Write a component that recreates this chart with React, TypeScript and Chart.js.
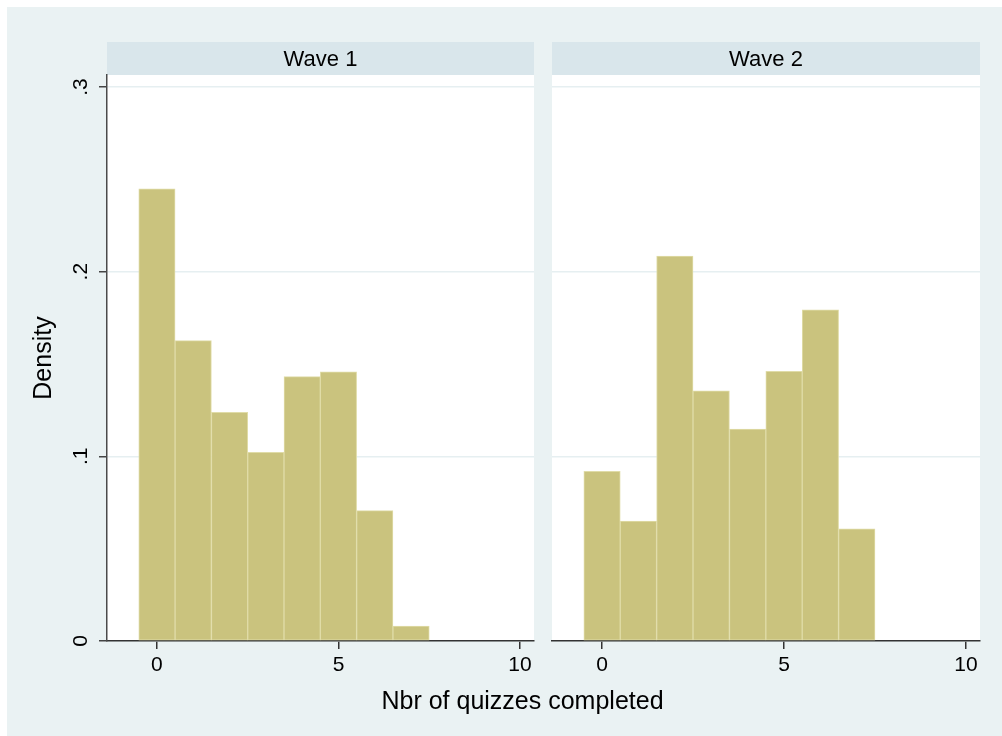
import React, { useEffect, useRef } from "react";
import { Chart, registerables } from "chart.js";

Chart.register(...registerables);

// ---- data ----
const quizBins = [0, 1, 2, 3, 4, 5, 6, 7];
const wave1Density = [0.2449, 0.1627, 0.1238, 0.1022, 0.1432, 0.1458, 0.0706, 0.0081];
const wave2Density = [0.0919, 0.0649, 0.2085, 0.1355, 0.1148, 0.146, 0.1793, 0.0608];
const panelTitles = ["Wave 1", "Wave 2"];
const xTickValues = [0, 5, 10];
const xTickLabels = ["0", "5", "10"];
const yTickValues = [0, 0.1, 0.2, 0.3];
const yTickLabels = ["0", ".1", ".2", ".3"];
const xAxisTitle = "Nbr of quizzes completed";
const yAxisTitle = "Density";

const FONT = '"Liberation Sans", Arial, Helvetica, sans-serif';

const panelDecor = {
  id: "panelDecor",
  beforeDraw(chart: any, _args: any, opts: any) {
    const { ctx, chartArea: a } = chart;
    ctx.save();
    ctx.fillStyle = "#FFFFFF";
    ctx.fillRect(a.left, a.top, a.right - a.left, a.bottom - a.top);
    ctx.fillStyle = "#D9E6EB";
    ctx.fillRect(a.left, a.top - 33, a.right - a.left, 33);
    ctx.fillStyle = "#000000";
    ctx.font = "22px " + FONT;
    ctx.textAlign = "center";
    ctx.textBaseline = "alphabetic";
    ctx.fillText(opts.text, (a.left + a.right) / 2, a.top - 9.5);
    ctx.restore();
  },
};

type PanelProps = {
  values: number[];
  title: string;
  showY: boolean;
  left: number;
  width: number;
  padLeft: number;
  padRight: number;
};

function Panel({ values, title, showY, left, width, padLeft, padRight }: PanelProps) {
  const ref = useRef<HTMLCanvasElement | null>(null);
  const height = 680;
  useEffect(() => {
    if (!ref.current) return;
    const chart = new Chart(ref.current, {
      type: "bar",
      data: {
        datasets: [
          {
            data: quizBins.map((b, i) => ({ x: b, y: values[i] })),
            backgroundColor: "#CAC37E",
            borderColor: "#E0DCA8",
            borderWidth: 1,
            borderSkipped: false,
            barPercentage: 1,
            categoryPercentage: 1,
          } as any,
        ],
      },
      plugins: [panelDecor],
      options: {
        animation: false,
        responsive: false,
        devicePixelRatio: 1,
        layout: { padding: { left: padLeft, top: 68, right: padRight, bottom: 6 } },
        plugins: {
          legend: { display: false },
          tooltip: { enabled: false },
          panelDecor: { text: title },
        } as any,
        scales: {
          x: {
            type: "linear",
            offset: false,
            min: -1.375,
            max: 10.385,
            afterBuildTicks: (s: any) => {
              s.ticks = xTickValues.map((v) => ({ value: v }));
            },
            afterFit: (s: any) => {
              s.height = 40;
            },
            ticks: {
              autoSkip: false,
              maxRotation: 0,
              padding: 4,
              color: "#000000",
              font: { size: 21, family: FONT },
              callback: (v: any) => xTickLabels[xTickValues.indexOf(Number(v))],
            },
            grid: {
              display: true,
              offset: false,
              drawOnChartArea: false,
              drawTicks: true,
              tickLength: 8,
              color: "#333333",
              lineWidth: 1.5,
            },
            border: { display: true, color: "#333333", width: 1.5 },
          },
          y: {
            type: "linear",
            min: 0,
            max: 0.3065,
            afterBuildTicks: (s: any) => {
              s.ticks = yTickValues.map((v) => ({ value: v }));
            },
            afterFit: (s: any) => {
              s.width = showY ? 100 : 0;
            },
            ticks: {
              display: showY,
              minRotation: 90,
              maxRotation: 90,
              crossAlign: "center",
              padding: 9,
              color: "#000000",
              font: { size: 21, family: FONT },
              callback: (v: any) => {
                const idx = yTickValues.findIndex((t) => Math.abs(t - Number(v)) < 1e-9);
                return idx >= 0 ? yTickLabels[idx] : "";
              },
            },
            grid: {
              color: "#E6EFF1",
              lineWidth: 1.5,
              drawTicks: showY,
              tickLength: 8,
              tickColor: "#444444",
            },
            border: { display: showY, color: "#4A4A4A", width: 1.5 },
            title: {
              display: showY,
              text: yAxisTitle,
              color: "#000000",
              font: { size: 25, family: FONT },
              padding: { top: 22, bottom: 0 },
            },
          },
        },
      } as any,
    });
    return () => chart.destroy();
  }, [values, title, showY, padLeft, padRight]);

  return (
    <canvas
      ref={ref}
      width={width}
      height={height}
      style={{ position: "absolute", left, top: 7, width, height }}
    />
  );
}

export default function App() {
  return (
    <div style={{ position: "absolute", left: 0, top: 0, width: 1002, height: 736, background: "#FFFFFF" }}>
      <div style={{ position: "absolute", left: 7, top: 7, width: 995, height: 729, background: "#EAF2F3" }} />
      <Panel values={wave1Density} title={panelTitles[0]} showY={true} left={7} width={543} padLeft={0} padRight={16} />
      <Panel values={wave2Density} title={panelTitles[1]} showY={false} left={540} width={462} padLeft={12} padRight={22} />
      <div
        style={{
          position: "absolute",
          left: 522.5,
          top: 688,
          transform: "translateX(-50%)",
          fontFamily: FONT,
          fontSize: 25,
          lineHeight: "25px",
          color: "#000000",
          whiteSpace: "nowrap",
        }}
      >
        {xAxisTitle}
      </div>
    </div>
  );
}
